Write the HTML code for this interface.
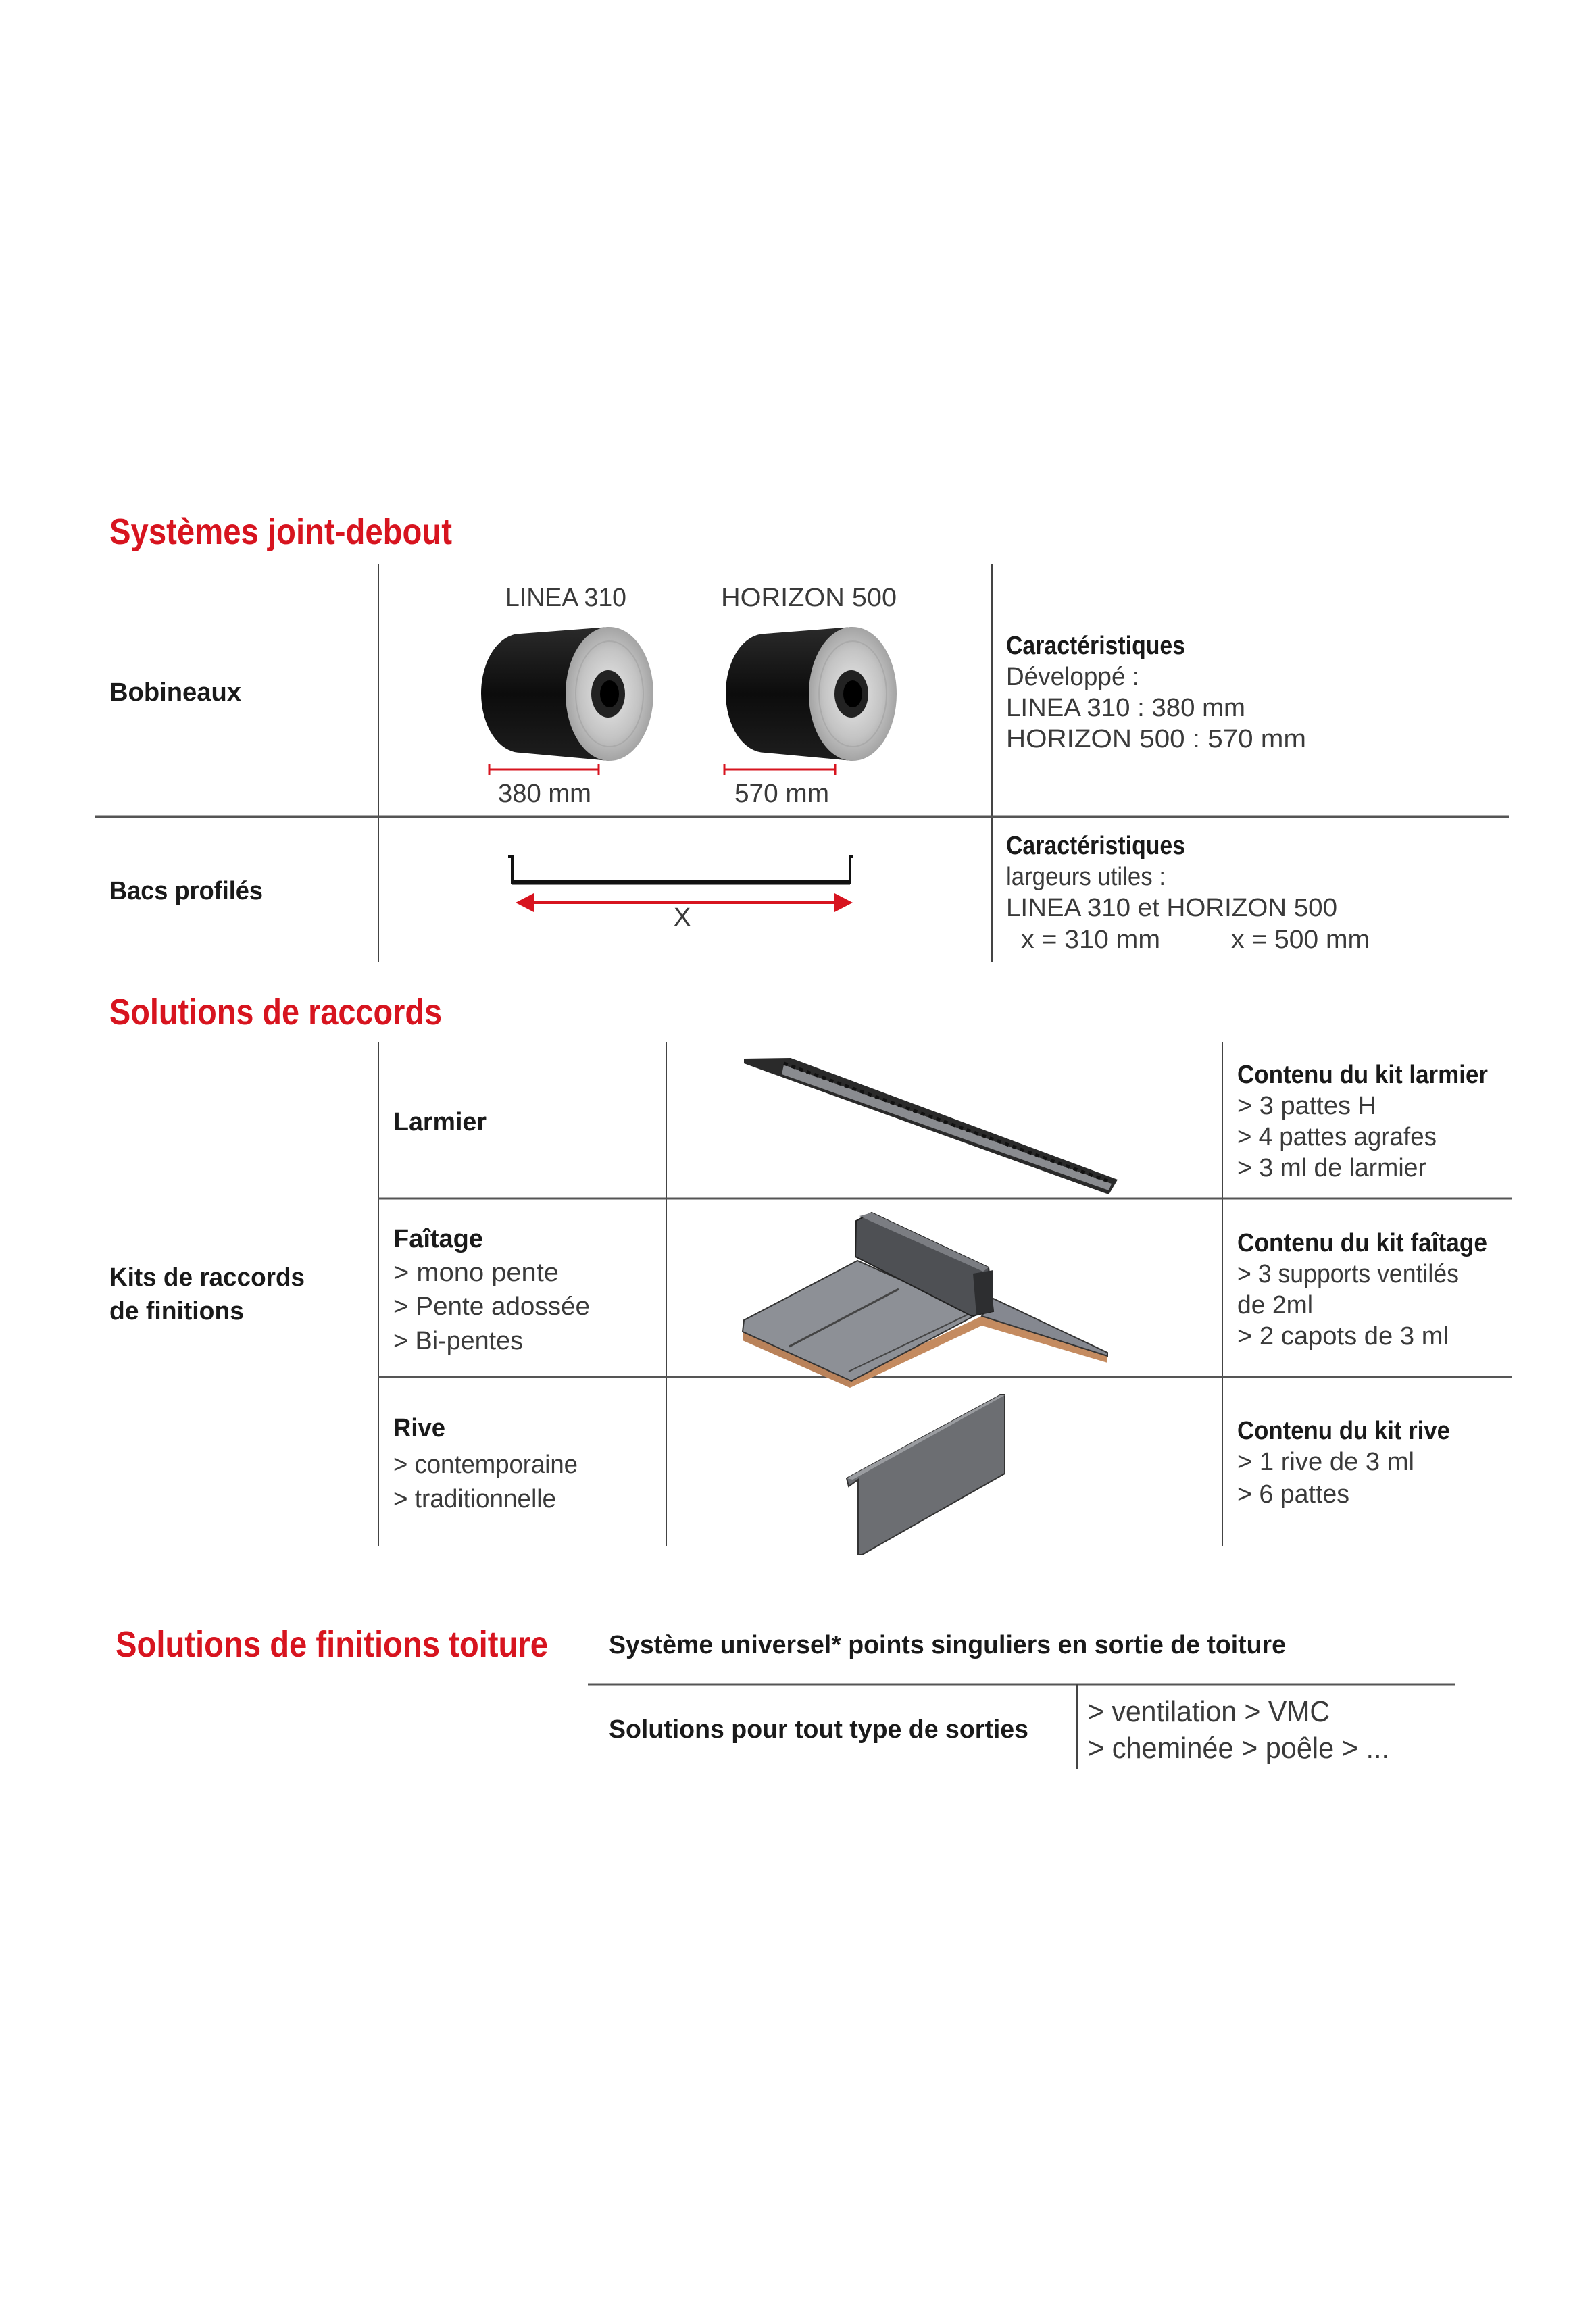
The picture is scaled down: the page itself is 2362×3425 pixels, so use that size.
<!DOCTYPE html>
<html><head><meta charset="utf-8"><style>
html,body{margin:0;padding:0;background:#fff}
svg{display:block}
text{font-family:"Liberation Sans",sans-serif}
.r{fill:#d7141f;font-weight:bold;font-size:54px}
.b{fill:#1a1a1a;font-weight:bold;font-size:38px}
.n{fill:#3a3a3a;font-size:38px}
.m{fill:#3a3a3a;font-size:44px}
</style></head><body>
<svg width="2362" height="3425" viewBox="0 0 2362 3425" xmlns="http://www.w3.org/2000/svg">
<defs>
<radialGradient id="face" cx="0.5" cy="0.5" r="0.55">
<stop offset="0" stop-color="#e8e8e8"/><stop offset="0.6" stop-color="#c4c4c4"/><stop offset="1" stop-color="#9a9a9a"/>
</radialGradient>
<linearGradient id="body" x1="0" y1="0" x2="0" y2="1">
<stop offset="0" stop-color="#2a2a2a"/><stop offset="0.5" stop-color="#0c0c0c"/><stop offset="1" stop-color="#1e1e1e"/>
</linearGradient>
</defs>

<text class="r" x="162" y="805" textLength="507" lengthAdjust="spacingAndGlyphs">Systèmes joint-debout</text>
<line x1="560" y1="835" x2="560" y2="1424" stroke="#444" stroke-width="2"/>
<line x1="1468" y1="835" x2="1468" y2="1424" stroke="#444" stroke-width="2"/>
<line x1="140" y1="1209" x2="2233" y2="1209" stroke="#555" stroke-width="3"/>

<text class="b" x="162" y="1037" textLength="195" lengthAdjust="spacingAndGlyphs">Bobineaux</text>
<text class="n" x="748" y="897" textLength="179" lengthAdjust="spacingAndGlyphs">LINEA 310</text>
<text class="n" x="1067" y="897" textLength="260" lengthAdjust="spacingAndGlyphs">HORIZON 500</text>

<g>
<path d="M770,938 L902,928 L902,1126 L770,1114 A58,88 0 0 1 770,938 Z" fill="url(#body)"/>
<ellipse cx="902" cy="1027" rx="65" ry="99" fill="url(#face)"/>
<ellipse cx="902" cy="1027" rx="50" ry="78" fill="none" stroke="#aaa" stroke-width="2"/>
<ellipse cx="900" cy="1027" rx="25" ry="35" fill="#222"/>
<ellipse cx="902" cy="1027" rx="14" ry="20" fill="#000"/>
</g>
<g>
<path d="M1132,938 L1262,928 L1262,1126 L1132,1114 A58,88 0 0 1 1132,938 Z" fill="url(#body)"/>
<ellipse cx="1262" cy="1027" rx="65" ry="99" fill="url(#face)"/>
<ellipse cx="1262" cy="1027" rx="50" ry="78" fill="none" stroke="#aaa" stroke-width="2"/>
<ellipse cx="1260" cy="1027" rx="25" ry="35" fill="#222"/>
<ellipse cx="1262" cy="1027" rx="14" ry="20" fill="#000"/>
</g>
<g stroke="#d7141f" stroke-width="3">
<line x1="724" y1="1139" x2="886" y2="1139"/><line x1="724" y1="1131" x2="724" y2="1147"/><line x1="886" y1="1131" x2="886" y2="1147"/>
<line x1="1072" y1="1139" x2="1236" y2="1139"/><line x1="1072" y1="1131" x2="1072" y2="1147"/><line x1="1236" y1="1131" x2="1236" y2="1147"/>
</g>
<text class="n" x="737" y="1187" textLength="138" lengthAdjust="spacingAndGlyphs">380 mm</text>
<text class="n" x="1087" y="1187" textLength="140" lengthAdjust="spacingAndGlyphs">570 mm</text>

<text class="b" x="1489" y="968" textLength="265" lengthAdjust="spacingAndGlyphs">Caractéristiques</text>
<text class="n" x="1489" y="1014" textLength="197" lengthAdjust="spacingAndGlyphs">Développé :</text>
<text class="n" x="1489" y="1060" textLength="354" lengthAdjust="spacingAndGlyphs">LINEA 310 : 380 mm</text>
<text class="n" x="1489" y="1106" textLength="444" lengthAdjust="spacingAndGlyphs">HORIZON 500 :  570 mm</text>

<text class="b" x="162" y="1331" textLength="227" lengthAdjust="spacingAndGlyphs">Bacs profilés</text>
<path d="M752,1268 L758,1268 L758,1306 L1258,1306 L1258,1268 L1263,1268" fill="none" stroke="#111" stroke-width="4"/>
<line x1="758" y1="1306" x2="1258" y2="1306" stroke="#111" stroke-width="7"/>
<line x1="780" y1="1336" x2="1244" y2="1336" stroke="#d7141f" stroke-width="4"/>
<polygon points="763,1336 790,1322 790,1350" fill="#d7141f"/>
<polygon points="1262,1336 1235,1322 1235,1350" fill="#d7141f"/>
<text class="n" x="997" y="1370" font-size="40">X</text>

<text class="b" x="1489" y="1264" textLength="265" lengthAdjust="spacingAndGlyphs">Caractéristiques</text>
<text class="n" x="1489" y="1310" textLength="236" lengthAdjust="spacingAndGlyphs">largeurs utiles :</text>
<text class="n" x="1489" y="1356" textLength="490" lengthAdjust="spacingAndGlyphs">LINEA 310 et HORIZON 500</text>
<text class="n" x="1511" y="1403" textLength="206" lengthAdjust="spacingAndGlyphs">x = 310 mm</text>
<text class="n" x="1822" y="1403" textLength="205" lengthAdjust="spacingAndGlyphs">x = 500 mm</text>

<text class="r" x="162" y="1516" textLength="492" lengthAdjust="spacingAndGlyphs">Solutions de raccords</text>
<g stroke="#444" stroke-width="2">
<line x1="560" y1="1542" x2="560" y2="2288"/>
<line x1="986" y1="1542" x2="986" y2="2288"/>
<line x1="1809" y1="1542" x2="1809" y2="2288"/>
</g>
<line x1="560" y1="1774" x2="2237" y2="1774" stroke="#555" stroke-width="3"/>
<line x1="560" y1="2038" x2="2237" y2="2038" stroke="#555" stroke-width="3"/>

<text class="b" x="582" y="1673" textLength="138" lengthAdjust="spacingAndGlyphs">Larmier</text>
<polygon points="1101,1567 1170,1566 1654,1746 1641,1768 1101,1574" fill="#2a2a2a"/>
<polygon points="1160,1576 1645,1752 1641,1762 1157,1590" fill="#8a8c90"/>
<line x1="1160" y1="1574" x2="1645" y2="1750" stroke="#111" stroke-width="5" stroke-dasharray="6,6"/>

<text class="b" x="1831" y="1603" textLength="371" lengthAdjust="spacingAndGlyphs">Contenu du kit larmier</text>
<text class="n" x="1831" y="1649" textLength="206" lengthAdjust="spacingAndGlyphs">&gt; 3 pattes H</text>
<text class="n" x="1831" y="1695" textLength="295" lengthAdjust="spacingAndGlyphs">&gt; 4 pattes agrafes</text>
<text class="n" x="1831" y="1741" textLength="280" lengthAdjust="spacingAndGlyphs">&gt; 3 ml de larmier</text>

<text class="b" x="162" y="1903" textLength="289" lengthAdjust="spacingAndGlyphs">Kits de raccords</text>
<text class="b" x="162" y="1953" textLength="199" lengthAdjust="spacingAndGlyphs">de finitions</text>

<text class="b" x="582" y="1846" textLength="133" lengthAdjust="spacingAndGlyphs">Faîtage</text>
<text class="n" x="582" y="1896" textLength="245" lengthAdjust="spacingAndGlyphs">&gt; mono pente</text>
<text class="n" x="582" y="1946" textLength="291" lengthAdjust="spacingAndGlyphs">&gt; Pente adossée</text>
<text class="n" x="582" y="1997" textLength="192" lengthAdjust="spacingAndGlyphs">&gt; Bi-pentes</text>

<polygon points="1099,1971 1099,1984 1258,2054 1258,2040" fill="#b9825a"/>
<polygon points="1258,2040 1453,1948 1453,1962 1258,2054" fill="#c48b60"/>
<polygon points="1453,1948 1639,2002 1639,2017 1453,1962" fill="#c48b60"/>
<polygon points="1101,1954 1269,1866 1447,1945 1260,2044 1099,1971" fill="#8d9096" stroke="#333" stroke-width="2"/>
<line x1="1168" y1="1993" x2="1330" y2="1908" stroke="#444" stroke-width="3"/>
<line x1="1256" y1="2030" x2="1440" y2="1942" stroke="#444" stroke-width="2"/>
<polygon points="1453,1948 1470,1922 1639,2002 1639,2007" fill="#858890" stroke="#333" stroke-width="2"/>
<polygon points="1267,1807 1290,1795 1463,1876 1470,1941 1438,1948 1266,1860" fill="#4e5054" stroke="#222" stroke-width="2"/>
<polygon points="1290,1795 1463,1876 1455,1882 1272,1800" fill="#7b7d82"/>
<polygon points="1440,1885 1470,1880 1470,1941 1445,1946" fill="#2d2e30"/>

<text class="b" x="1831" y="1852" textLength="370" lengthAdjust="spacingAndGlyphs">Contenu du kit faîtage</text>
<text class="n" x="1831" y="1898" textLength="328" lengthAdjust="spacingAndGlyphs">&gt; 3 supports ventilés</text>
<text class="n" x="1831" y="1944" textLength="112" lengthAdjust="spacingAndGlyphs">de 2ml</text>
<text class="n" x="1831" y="1990" textLength="313" lengthAdjust="spacingAndGlyphs">&gt; 2 capots de 3 ml</text>

<text class="b" x="582" y="2126" textLength="77" lengthAdjust="spacingAndGlyphs">Rive</text>
<text class="n" x="582" y="2180" textLength="273" lengthAdjust="spacingAndGlyphs">&gt; contemporaine</text>
<text class="n" x="582" y="2231" textLength="241" lengthAdjust="spacingAndGlyphs">&gt; traditionnelle</text>

<polygon points="1253,2188 1480,2065 1487,2065 1487,2181 1276,2301 1270,2301 1270,2190 1256,2200" fill="#6c6e72" stroke="#333" stroke-width="2"/>
<polygon points="1253,2188 1480,2065 1487,2065 1262,2190" fill="#9a9ca0"/>

<text class="b" x="1831" y="2130" textLength="315" lengthAdjust="spacingAndGlyphs">Contenu du kit rive</text>
<text class="n" x="1831" y="2176" textLength="262" lengthAdjust="spacingAndGlyphs">&gt; 1 rive de 3 ml</text>
<text class="n" x="1831" y="2224" textLength="166" lengthAdjust="spacingAndGlyphs">&gt; 6 pattes</text>

<text class="r" x="171" y="2452" textLength="640" lengthAdjust="spacingAndGlyphs">Solutions de finitions toiture</text>
<text class="b" x="901" y="2447" textLength="1002" lengthAdjust="spacingAndGlyphs">Système universel* points singuliers en sortie de toiture</text>
<line x1="870" y1="2493" x2="2154" y2="2493" stroke="#555" stroke-width="3"/>
<line x1="1594" y1="2493" x2="1594" y2="2618" stroke="#444" stroke-width="2"/>
<text class="b" x="901" y="2572" textLength="621" lengthAdjust="spacingAndGlyphs">Solutions pour tout type de sorties</text>
<text class="m" x="1610" y="2548" textLength="358" lengthAdjust="spacingAndGlyphs">&gt; ventilation &gt; VMC</text>
<text class="m" x="1610" y="2602" textLength="446" lengthAdjust="spacingAndGlyphs">&gt; cheminée &gt; poêle &gt; ...</text>
</svg>
</body></html>
